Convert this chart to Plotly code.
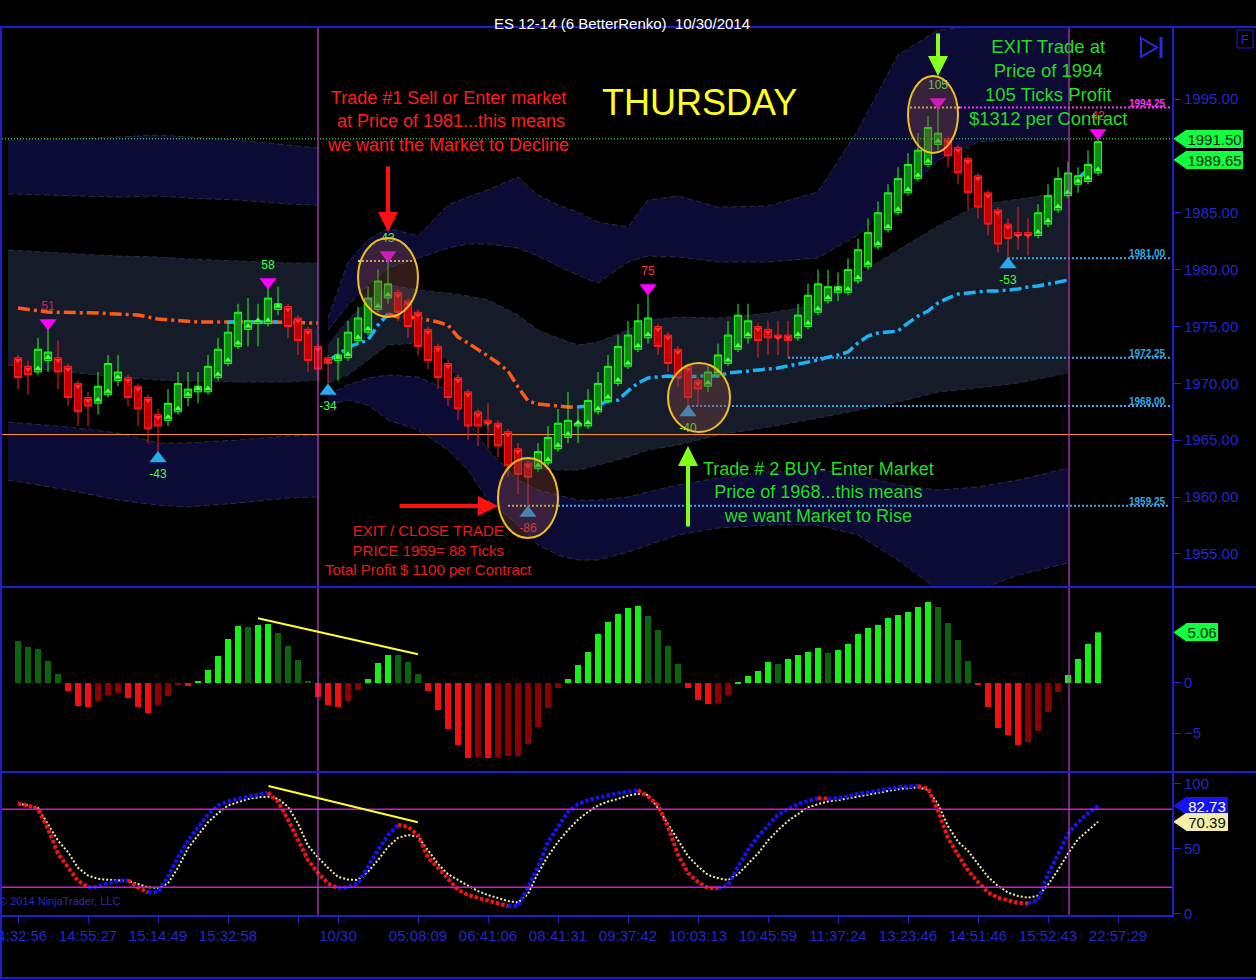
import plotly.graph_objects as go

FONT = "Liberation Sans, Arial, sans-serif"
AXIS_BLUE = "#2626c8"
BORDER_BLUE = "#1c1cd0"

# ---------------- data ----------------
bars = list(range(109))

opens = [1972.25, 1971.5, 1971, 1972, 1972.25, 1971.5, 1970, 1968.75, 1968.25, 1969,
         1970.25, 1970.5, 1969.75, 1968.75, 1967.25, 1966.75, 1967.5, 1968.75, 1969.25, 1969.25,
         1970.5, 1971.75, 1973.25, 1974.75, 1975.25, 1975.25, 1976.5, 1976.75, 1975.75, 1974.75,
         1973.25, 1972.25, 1972, 1972.25, 1973.75, 1974.5, 1976.5, 1977.5, 1978, 1977.25,
         1976.25, 1974.75, 1973.25, 1971.75, 1970.5, 1969.25, 1967.5, 1966.75, 1966.5, 1965.75,
         1964.25, 1963, 1962.5, 1963, 1964.25, 1965.25, 1966.25, 1966.25, 1967.5, 1968.5,
         1970, 1971.5, 1973, 1974, 1975, 1974.25, 1973, 1971.5, 1970.25, 1969.75,
         1970.75, 1971.75, 1973, 1974, 1975, 1974.75, 1974.25, 1974.25, 1974, 1975,
         1976.25, 1977.25, 1978, 1978, 1979, 1980.25, 1982, 1983.5, 1985, 1986.75,
         1988, 1989.25, 1991, 1991.5, 1990.75, 1989.75, 1988.25, 1986.75, 1985.25, 1984,
         1983.25, 1983.25, 1983, 1984, 1985.25, 1986.5, 1987.5, 1987.75, 1988.5]
highs = [1972.5, 1972, 1974, 1974.75, 1973.75, 1971.75, 1970.25, 1969.25, 1971, 1972.5,
         1972.5, 1970.75, 1970, 1969, 1967.75, 1969.5, 1971, 1971, 1971, 1972.5,
         1974, 1975.5, 1977, 1977.5, 1977, 1978.5, 1978.5, 1977, 1976, 1975,
         1973.5, 1972.5, 1974, 1975.5, 1976.75, 1978.5, 1980, 1981, 1978.25, 1977.5,
         1976.5, 1975, 1973.5, 1972, 1970.75, 1969.5, 1967.75, 1968.25, 1966.75, 1966,
         1964.75, 1963.25, 1964.75, 1966.25, 1967.75, 1969.25, 1967.75, 1969.5, 1971, 1972.5,
         1974.25, 1975.5, 1977, 1978, 1975.25, 1974.5, 1973.25, 1971.75, 1970.5, 1971.5,
         1973.5, 1975.5, 1977, 1977, 1975.25, 1975.5, 1975.5, 1975.5, 1977, 1978.75,
         1980, 1980, 1979.75, 1981, 1982.75, 1984.5, 1986, 1987.5, 1989, 1990.25,
         1992, 1993.5, 1994.25, 1991.75, 1991, 1990, 1988.5, 1987, 1985.5, 1984.5,
         1985.5, 1984.5, 1985.75, 1987.5, 1989, 1989.5, 1989, 1990.5, 1991.75]
lows = [1969.5, 1969, 1970.75, 1971, 1969.5, 1968, 1966.25, 1966.25, 1967.25, 1968.75,
        1969.75, 1968, 1966.25, 1964.75, 1963.75, 1966.25, 1967.25, 1968, 1968.25, 1969,
        1970.25, 1971.5, 1973, 1973.25, 1973.25, 1975, 1976, 1974, 1972.5, 1971,
        1970.25, 1970, 1970.25, 1972, 1973.5, 1974.25, 1976.25, 1977, 1975.5, 1974,
        1972.5, 1971.25, 1969.5, 1968, 1966.75, 1965, 1964.5, 1964.25, 1963.5, 1961.75,
        1960.25, 1959.25, 1962.25, 1962.75, 1964, 1964.75, 1964.75, 1966, 1967.25, 1968.25,
        1969.75, 1971.25, 1972.75, 1973.5, 1972.5, 1971, 1969.75, 1968, 1968, 1969.25,
        1970.5, 1971.5, 1972.75, 1973.5, 1972.25, 1972.5, 1972.5, 1972.25, 1973.75, 1974.75,
        1976, 1977, 1977.25, 1977.75, 1978.75, 1980, 1981.75, 1983.25, 1984.75, 1986.5,
        1987.75, 1989, 1990.5, 1989, 1987.5, 1985.25, 1984.5, 1983, 1981.5, 1981,
        1981.75, 1981.25, 1982.75, 1983.75, 1985, 1986.25, 1986.75, 1987.5, 1988.25]
closes = [1970.5, 1970.75, 1973, 1972.75, 1971, 1968.75, 1967.5, 1968, 1969.75, 1971.75,
          1971, 1968.75, 1967.75, 1966, 1966.25, 1968.25, 1970, 1969.5, 1969.75, 1971.5,
          1973, 1974.5, 1976.25, 1975.5, 1975.5, 1977.5, 1977, 1975, 1973.75, 1972,
          1971.25, 1971.75, 1972.5, 1974.5, 1975.75, 1977.5, 1979, 1978.75, 1976.25, 1975,
          1973.25, 1972, 1970.5, 1968.75, 1967.75, 1966.25, 1966.25, 1966.5, 1964.5, 1962.75,
          1962, 1961.75, 1964, 1965.25, 1966.5, 1966.75, 1966.5, 1968.5, 1970, 1971.5,
          1973.25, 1974.25, 1975.5, 1975.75, 1973.25, 1971.75, 1970.5, 1968.75, 1969.5, 1971,
          1972.5, 1974.25, 1976, 1975.5, 1973.75, 1974, 1974, 1973.75, 1976, 1977.75,
          1978.75, 1978.5, 1978.5, 1980, 1981.75, 1983.25, 1985, 1986.75, 1988, 1989.25,
          1990.5, 1992.5, 1992, 1990, 1988.5, 1986.75, 1985.5, 1984, 1982.25, 1982.75,
          1983, 1983, 1985, 1986.5, 1988, 1988.5, 1988.25, 1989.25, 1991.25]

# oscillator histogram
hist = [4.2, 3.6, 3.4, 2.2, 0.9, -0.8, -2.3, -2.4, -1.8, -1.2,
        -1.0, -1.5, -2.4, -3.0, -2.2, -1.3, -0.1, -0.3, 0.2, 1.3,
        2.7, 4.4, 5.7, 5.6, 5.8, 5.9, 5.0, 3.7, 2.3, 0.2,
        -1.4, -2.2, -2.4, -1.8, -0.7, 0.4, 2.0, 2.8, 2.8, 2.1,
        0.9, -0.8, -2.7, -4.6, -6.2, -7.5, -7.4, -7.5, -7.4, -7.3,
        -7.3, -6.1, -4.4, -2.5, -0.5, 0.4, 1.8, 3.1, 4.9, 6.1,
        6.9, 7.5, 7.7, 6.7, 5.3, 3.7, 1.9, -0.5, -1.7, -2.1,
        -2.0, -1.2, 0.1, 0.7, 1.2, 2.1, 1.9, 2.4, 2.8, 3.1,
        3.5, 3.0, 3.3, 3.9, 4.9, 5.5, 5.8, 6.5, 6.8, 7.1,
        7.6, 8.1, 7.6, 6.0, 4.3, 2.2, -0.1, -2.4, -4.5, -5.2,
        -6.2, -5.9, -4.8, -2.9, -0.9, 0.8, 2.4, 3.9, 5.06]

# stochastic
stoch_k = [84.4, 83, 80, 65, 46, 35, 25, 20, 20.5, 23,
           25, 25.5, 20, 16, 16.5, 28, 43, 56, 66, 76,
           83, 86, 88, 89.7, 91, 92.8, 86, 72, 56, 41,
           31, 23, 19.2, 20, 23, 36, 48.7, 60, 68, 66.6,
           60, 43, 35, 27, 18, 14, 12, 9.5, 7.7, 5.5,
           5.6, 20, 35.8, 55, 66.6, 78, 84, 87, 89, 91,
           92.3, 93.5, 94.8, 90, 83, 66.6, 45, 31, 24, 19.5,
           19.2, 21.8, 35.8, 48.7, 59, 68, 76, 80, 84, 86.5,
           88.5, 88.2, 88.5, 90, 92, 93, 94.5, 95.5, 97, 97.5,
           97.9, 96, 79, 58, 45, 33, 24, 16, 12, 10,
           8, 7.7, 10.2, 30, 46, 61, 70, 77, 82.73]
stoch_d = [84.4, 83, 81, 69, 56, 47, 35, 29, 26.5, 25.8,
           25.5, 25, 22.5, 20, 19.5, 23, 35, 50, 60, 70,
           77, 83, 85.5, 88, 89.2, 89.7, 88, 82, 69, 52,
           43, 35, 28, 26, 25.6, 32, 41, 51, 58, 60.2,
           59, 48, 38, 30, 25.6, 21, 17, 14, 11.5, 9.5,
           8.2, 15, 31, 44, 55, 64, 72, 78, 83, 86,
           88, 90.5, 92, 91, 81, 69, 56, 44, 36, 29.5,
           27, 25.6, 30, 38, 46, 56, 64, 71, 76, 81.5,
           84, 86, 87, 88.5, 90, 91.5, 93, 94.5, 95.5, 96.2,
           96.9, 95, 84, 67, 55, 48, 38, 28, 21, 16,
           13.3, 12, 13.5, 22, 33.3, 46, 57, 64, 70.39]

# moving average (price units)
ma_a_bars = [0, 3, 8, 12, 14, 18, 21, 25, 30]
ma_a = [1976.62, 1976.27, 1976.18, 1976.01, 1975.66, 1975.39, 1975.39, 1975.39, 1975.30]
ma_a_up_bars = [21, 26]
ma_a_up = [1975.39, 1975.39]
ma_b_bars = [31, 32, 33, 34, 35, 36, 37]
ma_b = [1972.05, 1972.49, 1973.19, 1973.46, 1973.81, 1975.13, 1976.10]
ma_c_bars = list(range(37, 57))
ma_c = [1976.10, 1975.83, 1975.83, 1975.74, 1975.57, 1975.39, 1975.13, 1974.07, 1973.55, 1973.02,
        1972.40, 1971.79, 1971.09, 1969.68, 1968.45, 1968.19, 1968.10, 1968.01, 1967.92, 1967.92]
ma_d_bars = list(range(56, 106))
ma_d = [1967.92, 1968.01, 1968.10, 1968.45, 1968.54, 1969.33, 1970.03, 1970.47, 1970.56, 1970.65,
        1970.56, 1970.56, 1970.65, 1970.65, 1970.65, 1970.91, 1971.00, 1971.09, 1971.17, 1971.26,
        1971.35, 1971.53, 1971.70, 1971.88, 1972.05, 1972.31, 1972.49, 1972.76, 1973.55, 1974.16,
        1974.43, 1974.51, 1974.60, 1975.30, 1975.92, 1976.36, 1977.06, 1977.50, 1977.85, 1977.94,
        1978.03, 1978.12, 1978.12, 1978.21, 1978.29, 1978.47, 1978.56, 1978.73, 1978.91, 1979.08]
ma_e_bars = [106, 107, 108]
ma_e = [1988.0, 1988.8, 1989.65]

# channel bands, session 1
band1_bars = [-1, 5, 10, 14, 17, 22, 27, 30]
band1_outer_top = [1991.39, 1991.48, 1991.66, 1991.83, 1991.66, 1991.39, 1990.95, 1990.69]
band1_outer_in = [1986.65, 1986.47, 1986.38, 1986.47, 1986.29, 1986.12, 1985.77, 1985.68]
band1_inner_top = [1981.72, 1981.46, 1981.19, 1981.11, 1980.93, 1980.76, 1980.58, 1980.58]
band1_inner_bot = [1971.61, 1971.00, 1970.56, 1970.29, 1970.21, 1970.12, 1970.12, 1970.29]
band1_lower_in = [1966.60, 1966.17, 1965.63, 1964.76, 1964.76, 1965.02, 1965.37, 1965.46]
band1_lower_bot = [1961.50, 1960.62, 1959.74, 1959.30, 1959.13, 1959.48, 1959.92, 1960.01]
# channel bands, session 2
band2_bars = [31, 33, 35, 37, 40, 43, 45, 47, 50, 52, 54, 56, 58, 61, 63, 66, 70, 75, 80, 84, 88, 92, 96, 100, 105]
band2_outer_top = [1975.74, 1980.67, 1982.60, 1983.66, 1982.95, 1985.68, 1986.38, 1987.00, 1988.14, 1986.56,
                   1985.68, 1985.06, 1984.18, 1983.74, 1986.12, 1986.47, 1985.50, 1985.59, 1986.82, 1992.27,
                   1998.87, 2001.06, 2001.42, 2001.42, 2001.42]
band2_outer_in = [1974.69, 1976.89, 1978.65, 1980.14, 1981.02, 1981.90, 1982.25, 1982.25, 1981.90, 1981.20,
                  1980.32, 1979.52, 1978.82, 1980.67, 1981.20, 1981.11, 1980.67, 1980.67, 1981.02, 1983.04,
                  1986.12, 1989.63, 1991.22, 1991.39, 1991.39]
band2_inner_top = [1973.37, 1975.57, 1977.33, 1978.65, 1978.21, 1977.94, 1977.68, 1977.33, 1976.01, 1974.69,
                   1973.99, 1973.37, 1973.63, 1974.69, 1975.57, 1975.83, 1975.74, 1976.18, 1976.89, 1979.52,
                   1981.72, 1983.83, 1985.68, 1986.21, 1986.82]
band2_inner_bot = [1970.03, 1970.73, 1972.05, 1973.37, 1973.55, 1972.05, 1968.54, 1965.90, 1963.44, 1962.56,
                   1962.38, 1962.38, 1962.82, 1963.52, 1964.14, 1964.58, 1965.46, 1966.16, 1966.95, 1967.66,
                   1968.36, 1969.24, 1969.59, 1970.03, 1970.91]
band2_lower_in = [1968.98, 1969.85, 1970.47, 1970.73, 1970.56, 1969.41, 1966.78, 1964.14, 1961.50, 1960.62,
                  1960.18, 1959.74, 1959.74, 1960.01, 1960.45, 1961.06, 1961.68, 1962.21, 1962.38, 1961.94,
                  1961.06, 1960.62, 1960.89, 1961.50, 1962.56]
band2_lower_bot = [1968.10, 1968.54, 1968.10, 1966.78, 1965.90, 1964.14, 1962.38, 1959.74, 1957.55, 1955.79,
                   1954.91, 1954.47, 1954.47, 1955.17, 1955.79, 1956.67, 1957.28, 1957.55, 1957.55, 1956.67,
                   1954.47, 1951.83, 1951.83, 1953.15, 1954.21]

# signals
sell_bars = [3, 25, 37, 63, 92, 108]
sell_prices = [1975.30, 1978.91, 1981.28, 1978.38, 1994.73, 1992.01]
sell_labels = ["51", "58", "43", "75", "105", "42"]
buy_bars = [14, 31, 51, 67, 99]
buy_prices = [1963.40, 1969.33, 1958.60, 1967.44, 1980.45]
buy_labels = ["-43", "-34", "-86", "-40", "-53"]

# trade levels
level_prices = [1994.25, 1981.00, 1972.25, 1968.00, 1959.25]
level_start_bars = [94.2, 99, 77, 67, 54]
last_price = 1991.50
ma_last = 1989.65
support_price = 1965.50

# x-axis ticks
tick_bars = [0, 7, 14, 21, 28, 32, 40, 47, 54, 61, 68, 75, 82, 89, 96, 103, 110]
tick_labels = ["14:32:56", "14:55:27", "15:14:49", "15:32:58", "", "10/30", "05:08:09", "06:41:06",
               "08:41:31", "09:37:42", "10:03:13", "10:45:59", "11:37:24", "13:23:46", "14:51:46",
               "15:52:43", "22:57:29"]

# ---------------- styles ----------------
sell_label_colors = ["#d0206a", "#40ff40", "#40ff40", "#ff3030", "#60ff60", "#ff3030"]
buy_label_colors = ["#40ff40", "#40ff40", "#ff3030", "#40ff40", "#40ff40"]
level_colors = ["#ff30ff", "#30a8e8", "#30a8e8", "#30a8e8", "#30a8e8"]
NAVY = "#0b0b36"
GREYBAND = "#161b29"
EDGE = "#272d42"
ORANGE = "#ff5a14"
CYAN = "#19b4f5"
MADASH = "12px,4px,3px,4px"

X_MIN, X_MAX = -1.6, 115.4
DOM1, RNG1 = [0.3698, 1.0], [1952.099, 2001.242]
DOM2, RNG2 = [0.1612, 0.3687], [-8.9, 9.5]
DOM3, RNG3 = [0.0, 0.1601], [-1.31, 107.92]

fig = go.Figure()


def add_band(xs, top, bot, color):
    fig.add_trace(go.Scatter(x=xs, y=top, mode="lines", line=dict(color=EDGE, width=1, dash="6px,3px"),
                             hoverinfo="skip", showlegend=False, xaxis="x", yaxis="y"))
    fig.add_trace(go.Scatter(x=xs, y=bot, mode="lines", line=dict(color=EDGE, width=1, dash="6px,3px"),
                             fill="tonexty", fillcolor=color, hoverinfo="skip", showlegend=False,
                             xaxis="x", yaxis="y"))


add_band(band1_bars, band1_outer_top, band1_outer_in, NAVY)
add_band(band1_bars, band1_inner_top, band1_inner_bot, GREYBAND)
add_band(band1_bars, band1_lower_in, band1_lower_bot, NAVY)
add_band(band2_bars, band2_outer_top, band2_outer_in, NAVY)
add_band(band2_bars, band2_inner_top, band2_inner_bot, GREYBAND)
add_band(band2_bars, band2_lower_in, band2_lower_bot, NAVY)


def hline(x0, x1, y, color, width, dash, yaxis="y"):
    fig.add_trace(go.Scatter(x=[x0, x1], y=[y, y], mode="lines",
                             line=dict(color=color, width=width, dash=dash),
                             hoverinfo="skip", showlegend=False, xaxis="x", yaxis=yaxis))


hline(X_MIN, X_MAX, support_price, "#ff9a30", 1, "solid")
hline(X_MIN, X_MAX, last_price, "#50ff50", 1, "1px,2px")

for lv, st, col in zip(level_prices, level_start_bars, level_colors):
    hline(st, 115.2, lv, col, 2, "2px,2px")
hline(89.2, 94.2, level_prices[0], "#f0d050", 2, "2px,2px")
hline(49, 54, level_prices[4], "#f0d050", 2, "2px,2px")
hline(34, 40, 1980.75, "#f0d050", 2, "2px,2px")


def ma_line(xs, ys, color):
    fig.add_trace(go.Scatter(x=xs, y=ys, mode="lines", line=dict(color=color, width=3.5, dash=MADASH),
                             hoverinfo="skip", showlegend=False, xaxis="x", yaxis="y"))


ma_line(ma_a_bars, ma_a, ORANGE)
ma_line(ma_a_up_bars, ma_a_up, CYAN)
ma_line(ma_b_bars, ma_b, CYAN)
ma_line(ma_c_bars, ma_c, ORANGE)
ma_line(ma_d_bars, ma_d, CYAN)
ma_line(ma_e_bars, ma_e, CYAN)

# candles on an overlaid axis so they sit above the band fills
fig.add_trace(go.Candlestick(
    x=bars, open=opens, high=highs, low=lows, close=closes,
    increasing=dict(line=dict(color="#1eff1e", width=1), fillcolor="#138a13"),
    decreasing=dict(line=dict(color="#ff1e1e", width=1), fillcolor="#c40000"),
    whiskerwidth=0, showlegend=False, hoverinfo="skip", xaxis="x", yaxis="y4"))

up_x = [b for b, o, c in zip(bars, opens, closes) if c > o]
up_y = [o + 0.3 for o, c in zip(opens, closes) if c > o]
dn_x = [b for b, o, c in zip(bars, opens, closes) if c < o]
dn_y = [o - 0.25 for o, c in zip(opens, closes) if c < o]
fig.add_trace(go.Scatter(x=up_x, y=up_y, mode="markers", marker=dict(symbol="triangle-up", size=6, color="#50ff50"),
                         hoverinfo="skip", showlegend=False, xaxis="x", yaxis="y4"))
fig.add_trace(go.Scatter(x=dn_x, y=dn_y, mode="markers", marker=dict(symbol="triangle-down", size=6, color="#ff3030"),
                         hoverinfo="skip", showlegend=False, xaxis="x", yaxis="y4"))

fig.add_trace(go.Scatter(x=sell_bars, y=sell_prices, mode="markers+text", text=sell_labels,
                         textposition="top center",
                         textfont=dict(family=FONT, size=12, color=sell_label_colors),
                         marker=dict(symbol="triangle-down", size=15, color="#ff00ff"),
                         hoverinfo="skip", showlegend=False, xaxis="x", yaxis="y4"))
fig.add_trace(go.Scatter(x=buy_bars, y=buy_prices, mode="markers+text", text=buy_labels,
                         textposition="bottom center",
                         textfont=dict(family=FONT, size=12, color=buy_label_colors),
                         marker=dict(symbol="triangle-up", size=15, color="#28aaf0"),
                         hoverinfo="skip", showlegend=False, xaxis="x", yaxis="y4"))

# histogram
hist_colors = []
for i, v in enumerate(hist):
    prev = hist[i - 1] if i > 0 else v
    if v >= 0:
        hist_colors.append("#16f016" if v > prev else "#0b640b")
    else:
        hist_colors.append("#f01010" if v < prev else "#8a0000")
fig.add_trace(go.Bar(x=bars, y=hist, width=0.6, marker=dict(color=hist_colors, line=dict(width=0)),
                     hoverinfo="skip", showlegend=False, xaxis="x", yaxis="y2"))

# stochastic
fig.add_trace(go.Scatter(x=bars, y=stoch_d, mode="lines", line=dict(color="#f2eab0", width=2, dash="2px,2px"),
                         hoverinfo="skip", showlegend=False, xaxis="x", yaxis="y3"))
runs = []
start = 0
cur = None
for i in range(1, len(stoch_k)):
    d = stoch_k[i] >= stoch_k[i - 1]
    if cur is None:
        cur = d
    elif d != cur:
        runs.append((start, i - 1, cur))
        start = i - 1
        cur = d
runs.append((start, len(stoch_k) - 1, cur))
for s, e, up in runs:
    fig.add_trace(go.Scatter(x=bars[s:e + 1], y=stoch_k[s:e + 1], mode="lines",
                             line=dict(color="#1414f0" if up else "#f01414", width=4, dash="3.5px,2px"),
                             hoverinfo="skip", showlegend=False, xaxis="x", yaxis="y3"))

axis_common = dict(showgrid=False, zeroline=False, side="right", anchor="x", showline=True,
                   linecolor=BORDER_BLUE, linewidth=2, ticks="outside", ticklen=7, tickcolor=AXIS_BLUE,
                   tickfont=dict(family=FONT, size=15, color=AXIS_BLUE), fixedrange=True, automargin=False)

fig.update_layout(
    width=1256, height=980,
    margin=dict(l=2, r=84, t=28, b=65, autoexpand=False),
    paper_bgcolor="black", plot_bgcolor="black",
    showlegend=False,
    boxgap=0.15, boxgroupgap=0.15,
    xaxis=dict(domain=[0, 1], range=[X_MIN, X_MAX], anchor="y3", tickmode="array",
               tickvals=tick_bars, ticktext=tick_labels, ticks="outside", ticklen=6, tickcolor=AXIS_BLUE,
               showline=True, linecolor=BORDER_BLUE, linewidth=2, showgrid=False, zeroline=False,
               ticklabeloverflow="allow", automargin=False,
               tickfont=dict(family=FONT, size=15, color=AXIS_BLUE), rangeslider=dict(visible=False),
               fixedrange=True),
    yaxis=dict(domain=DOM1, range=RNG1, tickmode="array",
               tickvals=[1955, 1960, 1965, 1970, 1975, 1980, 1985, 1995], tickformat=".2f", **axis_common),
    yaxis2=dict(domain=DOM2, range=RNG2, tickmode="array", tickvals=[-5, 0], **axis_common),
    yaxis3=dict(domain=DOM3, range=RNG3, tickmode="array", tickvals=[0, 50, 100], **axis_common),
    yaxis4=dict(overlaying="y", range=RNG1, visible=False, showgrid=False, zeroline=False,
                anchor="x", side="right", fixedrange=True),
)


# ---------------- shapes ----------------
def px_x(px):
    return (px - 2) / 1170.0


def px_y(py):
    return (915 - py) / 887.0


def val_paper(v, dom, rng):
    return dom[0] + (v - rng[0]) / (rng[1] - rng[0]) * (dom[1] - dom[0])


for lv in (20, 80):
    fig.add_shape(type="line", xref="paper", yref="y3", x0=0, x1=1, y0=lv, y1=lv,
                  line=dict(color="#c81ec8", width=1.5))
for sx in (30, 105.1):
    fig.add_shape(type="line", xref="x", yref="paper", x0=sx, x1=sx, y0=0, y1=1,
                  line=dict(color="#c040d0", width=1.2))
fig.add_shape(type="line", xref="x", yref="y2", x0=24, y0=6.47, x1=40, y1=2.87,
              line=dict(color="#ffff30", width=2))
fig.add_shape(type="line", xref="x", yref="y3", x0=25.04, y0=97.9, x1=39.98, y1=70,
              line=dict(color="#ffff30", width=2))
for x0, x1, y0, y1 in [(34, 40, 1975.83, 1982.78), (48, 54, 1956.4, 1963.44),
                       (65, 71.2, 1965.72, 1971.79), (89, 94, 1990.25, 1997.02)]:
    fig.add_shape(type="circle", xref="x", yref="y", x0=x0, x1=x1, y0=y0, y1=y1,
                  line=dict(color="#f0c020", width=2), fillcolor="rgba(130,70,70,0.38)")
for py in (27, 587, 772, 978):
    fig.add_shape(type="line", xref="paper", yref="paper", x0=px_x(0), x1=px_x(1256),
                  y0=px_y(py), y1=px_y(py), line=dict(color=BORDER_BLUE, width=2))
fig.add_shape(type="line", xref="paper", yref="paper", x0=px_x(1), x1=px_x(1),
              y0=px_y(27), y1=px_y(978), line=dict(color=BORDER_BLUE, width=2))
fig.add_shape(type="rect", xref="paper", yref="paper", x0=px_x(1237), x1=px_x(1253),
              y0=px_y(48), y1=px_y(30), line=dict(color=BORDER_BLUE, width=1))
# play-to-end glyph
fig.add_shape(type="path", xref="paper", yref="paper",
              path="M %f,%f L %f,%f L %f,%f Z" % (px_x(1141), px_y(38), px_x(1141), px_y(57),
                                                  px_x(1157), px_y(47.5)),
              line=dict(color="#2a2ae0", width=2))
fig.add_shape(type="line", xref="paper", yref="paper", x0=px_x(1161), x1=px_x(1161),
              y0=px_y(37), y1=px_y(58), line=dict(color="#2a2ae0", width=3))

for lv, col in zip(level_prices, level_colors):
    fig.add_annotation(x=115.0, y=lv, xref="x", yref="y", text="<b>%.2f</b>" % lv, showarrow=False,
                       xanchor="right", yanchor="bottom", yshift=-3,
                       font=dict(family=FONT, size=10, color=col))

tags = [(last_price, DOM1, RNG1, 57, "#10ff40", "#0a2a0a"),
        (ma_last, DOM1, RNG1, 57, "#10ff40", "#0a2a0a"),
        (hist[-1], DOM2, RNG2, 32, "#10ff40", "#0a2a0a"),
        (stoch_k[-1], DOM3, RNG3, 42, "#1414f0", "#ffffff"),
        (stoch_d[-1], DOM3, RNG3, 42, "#f4eea8", "#101010")]
for v, dom, rng, w, fill, tcol in tags:
    yp = val_paper(v, dom, rng)
    h = 9 / 887.0
    xa, xb = px_x(1174), px_x(1187)
    fig.add_shape(type="path", xref="paper", yref="paper",
                  path="M %f,%f L %f,%f L %f,%f Z" % (xa, yp, xb, yp + h, xb, yp - h),
                  fillcolor=fill, line=dict(color=fill, width=1))
    fig.add_annotation(x=px_x(1186), y=yp, xref="paper", yref="paper", xanchor="left", yanchor="middle",
                       text="%.2f" % v, showarrow=False, width=w, height=18, align="center",
                       bgcolor=fill, borderpad=0, borderwidth=0,
                       font=dict(family=FONT, size=15, color=tcol))

fig.add_annotation(x=px_x(622), y=px_y(13), xref="paper", yref="paper",
                   text="ES 12-14 (6 BetterRenko)\u00a0\u00a010/30/2014", showarrow=False,
                   font=dict(family=FONT, size=15, color="#ffffff"))
fig.add_annotation(x=43, y=1992.98, xref="x", yref="y",
                   text="Trade #1 Sell or Enter market<br> at Price of 1981...this means<br>we want the Market to Decline",
                   showarrow=False, align="center", font=dict(family=FONT, size=18, color="#ff1c1c"))
fig.add_annotation(x=68.1, y=1994.65, xref="x", yref="y", text="THURSDAY", showarrow=False,
                   font=dict(family=FONT, size=36, color="#ffff20"))
fig.add_annotation(x=103, y=1996.49, xref="x", yref="y",
                   text="EXIT Trade at<br>Price of 1994<br>105 Ticks Profit<br>$1312 per Contract",
                   showarrow=False, align="center", font=dict(family=FONT, size=18.5, color="#22dd22"))
fig.add_annotation(x=80, y=1960.45, xref="x", yref="y",
                   text="Trade # 2 BUY- Enter Market<br>Price of 1968...this means<br>we want Market to Rise",
                   showarrow=False, align="center", font=dict(family=FONT, size=18, color="#22dd22"))
fig.add_annotation(x=41, y=1955.35, xref="x", yref="y",
                   text="EXIT / CLOSE TRADE<br>PRICE 1959= 88 Ticks<br>Total Profit $ 1100 per Contract",
                   showarrow=False, align="center", font=dict(family=FONT, size=15, color="#e81c1c"))
for hx, hy, tx, ty, col in [(37, 1983.3, 37, 1989.2, "#ff1010"), (92, 1997.02, 92, 2000.89, "#88ff20"),
                            (67, 1964.49, 67, 1957.28, "#7fff1a"), (48, 1959.22, 38, 1959.22, "#ff1010")]:
    fig.add_annotation(x=hx, y=hy, ax=tx, ay=ty, xref="x", yref="y", axref="x", ayref="y", text="",
                       showarrow=True, arrowhead=2, arrowsize=1, arrowwidth=4, arrowcolor=col)
fig.add_annotation(x=px_x(1245), y=px_y(39), xref="paper", yref="paper", text="F", showarrow=False,
                   xanchor="center", yanchor="middle",
                   font=dict(family=FONT, size=13, color="#2a2ae0"))
fig.add_annotation(x=px_x(-3), y=px_y(909), xref="paper", yref="paper", text="\u00a9 2014 NinjaTrader, LLC",
                   showarrow=False, xanchor="left", font=dict(family=FONT, size=11, color="#2a2ab8"))

fig.write_html("out.html", config={"displayModeBar": False},
               post_script="document.body.style.margin='0px';document.body.style.background='black';")
